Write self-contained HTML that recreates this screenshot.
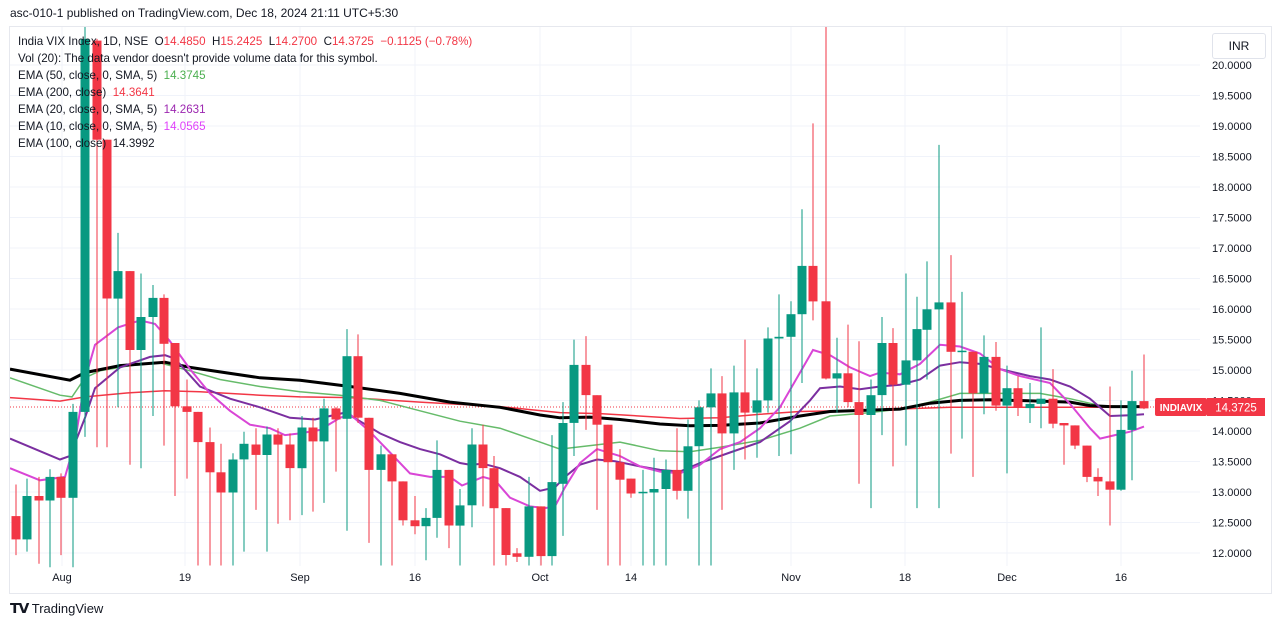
<!DOCTYPE html>
<html><head><meta charset="utf-8">
<style>
html,body{margin:0;padding:0;background:#fff;width:1281px;height:627px;overflow:hidden;font-family:"Liberation Sans",sans-serif;}
#hdr{position:absolute;left:10px;top:6px;font-size:12px;color:#131722;}
#frame{position:absolute;left:9px;top:26px;width:1261px;height:566px;border:1px solid #e6e8ee;}
.lg{position:absolute;left:18px;font-size:11.6px;color:#131722;white-space:nowrap;}
#inr{position:absolute;left:1212px;top:33px;width:52px;height:24px;border:1px solid #e0e3eb;border-radius:3px;font-size:12px;line-height:24px;text-align:center;color:#131722;background:#fff;}
#foot{position:absolute;left:10px;top:600px;font-size:13px;color:#131722;}
svg{position:absolute;left:0;top:0;}
</style></head><body>
<svg id="s" width="1281" height="627"></svg>
<div id="hdr">asc-010-1 published on TradingView.com, Dec 18, 2024 21:11 UTC+5:30</div>
<div id="frame"></div>
<div class="lg" style="top:35px">India VIX Index, 1D, NSE &nbsp;O<span style="color:#f23645">14.4850</span> &nbsp;H<span style="color:#f23645">15.2425</span> &nbsp;L<span style="color:#f23645">14.2700</span> &nbsp;C<span style="color:#f23645">14.3725</span> &nbsp;<span style="color:#f23645">−0.1125 (−0.78%)</span></div>
<div class="lg" style="top:52px">Vol (20): The data vendor doesn't provide volume data for this symbol.</div>
<div class="lg" style="top:69px">EMA (50, close, 0, SMA, 5) &nbsp;<span style="color:#4caf50">14.3745</span></div>
<div class="lg" style="top:86px">EMA (200, close) &nbsp;<span style="color:#f23645">14.3641</span></div>
<div class="lg" style="top:103px">EMA (20, close, 0, SMA, 5) &nbsp;<span style="color:#9c27b0">14.2631</span></div>
<div class="lg" style="top:120px">EMA (10, close, 0, SMA, 5) &nbsp;<span style="color:#e040fb">14.0565</span></div>
<div class="lg" style="top:137px">EMA (100, close) &nbsp;14.3992</div>
<div id="inr">INR</div>
<div id="foot"><b style="font-size:14px;letter-spacing:-1px">𝗧𝗩</b> TradingView</div>
<script>
const S=document.getElementById('s');let h='';
const Y=v=>v/2.877+25;
for(let i=0;i<=16;i++){const y=65+i*30.5;h+=`<line x1="10" x2="1200" y1="${y}" y2="${y}" stroke="#f0f3fa"/>`;
h+=`<text x="1212" y="${y+4}" font-size="11" fill="#131722" font-family="Liberation Sans">${(20-i*0.5).toFixed(4)}</text>`;}
const dl=[[62,'Aug'],[185,'19'],[300,'Sep'],[415,'16'],[540,'Oct'],[631,'14'],[791,'Nov'],[905,'18'],[1007,'Dec'],[1121,'16']];
dl.forEach(d=>{h+=`<line x1="${d[0]}" x2="${d[0]}" y1="27" y2="566" stroke="#f0f3fa"/><text x="${d[0]}" y="581" font-size="11" text-anchor="middle" fill="#131722" font-family="Liberation Sans">${d[1]}</text>`;});
h+=`<line x1="10" x2="1200" y1="407" y2="407" stroke="#f23645" stroke-dasharray="1,2" stroke-width="1"/>`;
const L=(pts,c,w)=>{h+=`<polyline fill="none" stroke="${c}" stroke-width="${w}" points="${pts.map(p=>p[0]+','+Y(p[1]).toFixed(1)).join(' ')}"/>`;};
L([[10,1072],[60,1082],[85,1070],[130,1058],[165,1052],[200,1055],[260,1065],[300,1070],[350,1072],[420,1085],[500,1098],[560,1115],[600,1118],[680,1132],[720,1130],[760,1120],[800,1112],[870,1108],[950,1100],[1000,1100],[1144,1100]],'#f23645',1.5);
L([[10,1015],[60,1065],[72,1070],[85,1015],[100,995],[130,980],[160,972],[190,995],[220,1020],[260,1040],[300,1055],[340,1065],[380,1080],[420,1110],[460,1140],[500,1160],[540,1200],[560,1220],[590,1210],[620,1200],[660,1225],[690,1228],[720,1215],[760,1195],[800,1160],[830,1125],[870,1115],[900,1105],[930,1085],[960,1060],[1000,1060],[1040,1060],[1070,1075],[1100,1095],[1144,1100]],'#66bb6a',1.5);
L([[10,990],[70,1022],[85,1000],[120,980],[165,970],[190,985],[220,998],[260,1015],[300,1022],[350,1040],[400,1060],[450,1085],[500,1100],[540,1122],[560,1130],[590,1128],[620,1135],[660,1148],[690,1153],[720,1152],[760,1145],[800,1125],[830,1112],[870,1108],[900,1105],[930,1088],[960,1080],[990,1078],[1040,1082],[1070,1085],[1090,1095],[1110,1098],[1144,1098]],'#000',3);
L([[10,1190],[60,1250],[70,1240],[85,1130],[95,1045],[120,985],[150,955],[165,950],[175,960],[200,1040],[230,1075],[260,1100],[290,1130],[315,1135],[330,1125],[345,1115],[360,1140],[380,1175],[400,1200],[420,1220],[440,1235],[460,1260],[470,1265],[483,1262],[500,1275],[520,1300],[540,1340],[555,1330],[565,1300],[580,1265],[597,1250],[615,1255],[640,1270],[660,1280],[680,1285],[700,1260],[730,1230],[760,1200],[790,1140],[810,1080],[820,1045],[840,1040],[860,1048],[880,1040],[900,1035],[920,1020],[940,980],[960,970],[980,975],[1000,990],[1030,1010],[1050,1020],[1070,1040],[1090,1075],[1110,1125],[1130,1123],[1144,1120]],'#7b2fa0',2);
L([[10,1275],[40,1310],[65,1300],[75,1200],[85,1020],[95,920],[118,870],[140,850],[155,860],[170,910],[190,990],[210,1060],[230,1110],[250,1150],[270,1160],[285,1180],[300,1175],[320,1165],[340,1130],[350,1120],[370,1170],[390,1230],[410,1290],[430,1300],[450,1300],[462,1325],[475,1310],[483,1300],[495,1310],[510,1360],[530,1385],[545,1390],[555,1385],[565,1330],[580,1260],[597,1220],[620,1240],[640,1270],[660,1285],[680,1290],[700,1265],[720,1220],[740,1200],[760,1160],[780,1100],[800,1000],[813,935],[830,950],[850,985],[870,1010],[880,1000],[900,1005],[920,975],[940,920],[960,925],[980,945],[1000,990],[1020,1010],[1050,1030],[1070,1090],[1090,1160],[1100,1190],[1115,1180],[1130,1170],[1144,1155]],'#d946d6',2);
const D=`16 r 1413 1480 1322 1525|27 g 1355 1480 1305 1515|39 r 1355 1368 1300 1550|50 g 1300 1368 1278 1560|61 r 1300 1360 1290 1525|73 g 1113 1360 1090 1560|85 g 40 1113 5 1185|97 r 45 330 40 1215|107 r 330 787 330 1215|118 g 708 787 598 1100|130 r 708 935 708 1265|141 g 840 935 715 1275|153 g 785 840 748 1125|164 r 785 917 775 1210|175 r 915 1097 915 1355|187 r 1097 1113 1020 1305|198 r 1113 1200 1113 1555|210 r 1200 1287 1158 1555|221 r 1287 1345 1205 1555|233 g 1250 1345 1232 1555|244 g 1205 1250 1170 1515|256 r 1207 1237 1160 1395|267 g 1178 1237 1155 1515|278 r 1178 1207 1160 1435|290 r 1207 1275 1175 1425|302 g 1158 1275 1125 1410|313 r 1158 1198 1130 1400|324 g 1103 1198 1075 1375|336 r 1103 1135 1100 1285|347 g 953 1133 875 1455|358 r 953 1130 890 1145|369 r 1130 1280 1130 1490|381 g 1235 1280 1210 1555|392 r 1235 1313 1235 1555|403 r 1313 1425 1313 1440|415 r 1425 1442 1355 1465|426 g 1418 1442 1390 1540|437 g 1280 1418 1195 1475|449 r 1280 1440 1280 1505|460 g 1382 1440 1335 1555|472 g 1207 1382 1160 1445|483 r 1207 1275 1150 1385|494 r 1275 1390 1240 1555|506 r 1390 1525 1390 1555|517 r 1520 1530 1505 1545|529 g 1385 1530 1300 1555|541 r 1385 1528 1385 1555|552 g 1315 1528 1180 1555|563 g 1145 1320 1085 1470|574 g 978 1145 905 1240|586 r 978 1065 895 1165|597 r 1065 1150 1065 1395|608 r 1150 1258 1150 1555|620 r 1258 1308 1220 1555|631 r 1305 1348 1305 1360|643 g 1343 1347 1280 1555|654 g 1335 1345 1245 1555|666 g 1280 1335 1250 1555|677 r 1280 1340 1160 1365|688 g 1212 1340 1135 1420|699 g 1100 1212 1080 1555|711 g 1060 1100 988 1555|722 r 1060 1175 1010 1395|734 g 1057 1175 980 1280|745 r 1057 1115 905 1250|757 g 1080 1115 988 1245|768 g 902 1080 870 1115|779 g 897 902 775 1240|791 g 832 897 795 1235|802 g 693 832 530 1030|813 r 693 795 283 850|826 r 795 1017 5 1020|837 g 1002 1017 900 1115|848 r 1002 1085 862 1100|859 r 1085 1122 910 1320|871 g 1065 1122 1020 1390|882 g 915 1065 840 1180|893 r 915 1035 872 1270|906 g 965 1035 715 1210|917 g 875 965 782 1390|927 g 818 877 680 1020|939 g 798 818 345 1390|951 r 798 940 662 1233|962 g 937 941 768 1190|973 r 940 1060 940 1300|984 g 955 1060 893 1120|996 r 955 1095 912 1110|1007 g 1045 1095 980 1290|1018 r 1045 1102 1010 1125|1030 g 1090 1102 1030 1145|1041 g 1075 1090 870 1160|1053 r 1075 1147 990 1160|1064 r 1145 1152 1145 1265|1075 r 1152 1210 1152 1220|1087 r 1210 1300 1210 1315|1098 r 1300 1313 1275 1355|1110 r 1313 1337 1040 1440|1121 g 1165 1337 1080 1340|1132 g 1082 1165 995 1310|1144 r 1082 1103 948 1105`;
D.split('|').forEach(r=>{const a=r.split(' ');const x=+a[0],c=a[1]=='g'?'#089981':'#f23645';
const t=Y(+a[2]),b=Y(+a[3]),hi=Y(+a[4]),lo=Y(+a[5]);
h+=`<line x1="${x}" x2="${x}" y1="${hi.toFixed(1)}" y2="${lo.toFixed(1)}" stroke="${c}" stroke-width="1"/>`;
h+=`<rect x="${x-4.5}" y="${t.toFixed(1)}" width="9" height="${Math.max(1.5,b-t).toFixed(1)}" fill="${c}"/>`;});
h+=`<rect x="1155" y="398" width="52" height="18" rx="2" fill="#f23645"/><text x="1181" y="411" font-size="10" fill="#fff" text-anchor="middle" font-family="Liberation Sans" font-weight="bold">INDIAVIX</text>`;
h+=`<rect x="1207" y="398" width="58" height="18" fill="#f23645"/><text x="1236" y="411.5" font-size="11.5" fill="#fff" text-anchor="middle" font-family="Liberation Sans">14.3725</text>`;
S.innerHTML=h;
</script>
</body></html>
